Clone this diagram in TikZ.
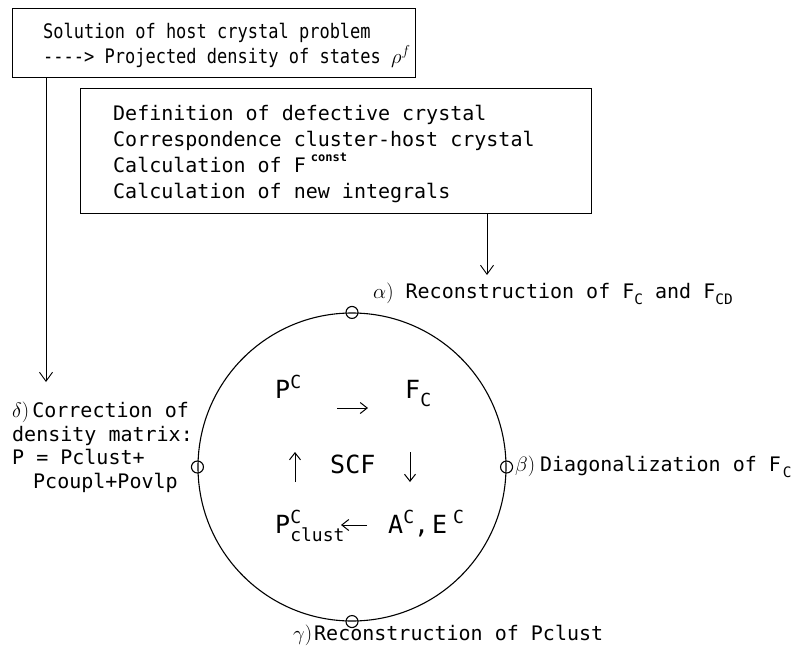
\documentclass[tikz,border=0pt]{standalone}
\usepackage{fontspec}
\usepackage{graphicx}
\setmainfont{DejaVu Sans Mono}
\newfontfamily\narrowmono{DejaVu Sans Mono}[FakeStretch=0.85]
\usetikzlibrary{arrows.meta,calc}

% raised / lowered indices in the running font
\newcommand\supC[1]{\raisebox{0.38em}{\scalebox{0.72}{#1}}}
\newcommand\subC[1]{\raisebox{-0.32em}{\scalebox{0.72}{#1}}}

\begin{document}
\begin{tikzpicture}[x=1pt,y=-1pt,
  frame/.style={draw, line width=1.1pt, inner sep=0, anchor=north west},
  txt/.style={inner sep=0, anchor=base west, font=\fontsize{20}{24}\selectfont},
  hosttxt/.style={inner sep=0, anchor=base west, font=\narrowmono\fontsize{20}{25}\selectfont},
  big/.style={inner sep=0, anchor=base west, font=\fontsize{25}{30}\selectfont},
  flow/.style={line width=0.9pt, -{Straight Barb[length=9pt,width=13pt]}},
  loop/.style={line width=1pt, -{Straight Barb[length=7pt,width=11pt]}},
  ring/.style={draw, circle, line width=1.1pt, inner sep=0},
  port/.style={draw, circle, line width=1.1pt, minimum size=12pt, inner sep=0},
]
\useasboundingbox (0,0) rectangle (806,648);

% host crystal box
\node[frame, minimum width=403pt, minimum height=69pt] (host) at (12,8) {};
\node[hosttxt] (host1) at (43,38) {Solution of host crystal problem};
\node[hosttxt] (host2) at (43,63) {-{}-{}-{}-{}> Projected density of states $\rho^{f}$};

% defective crystal box
\node[frame, minimum width=511pt, minimum height=125pt] (defect) at (80,88) {};
\node[txt] (def1) at (113,120) {Definition of defective crystal};
\node[txt] (def2) at (113,146) {Correspondence cluster-host crystal};
\node[txt] (def3) at (113,172) {Calculation of F\hspace{5pt}\raisebox{0.55em}{\scalebox{0.6}{\bfseries const}}};
\node[txt] (def4) at (113,198) {Calculation of new integrals};

% SCF cycle
\node[ring, minimum size=308pt] (cycle) at (352,467) {};
\node[port] (pa) at (cycle.north) {};
\node[port] (pb) at (cycle.east) {};
\node[port] (pg) at (cycle.south) {};
\node[port] (pd) at (cycle.west) {};

\node[big] (pc) at (275,398) {P\supC{C}};
\node[big] (fc) at (405,398) {F\subC{C}};
\node[big] (scf) at (330,473) {SCF};
\node[big] (pcl) at (275,533) {P\rlap{\supC{C}}\subC{clust}};
\node[big] (ae) at (388,533) {A\supC{C},\hspace{3pt}E\hspace{6pt}\supC{C}};

\coordinate (r1) at (337,408); \coordinate (r2) at (368,408);
\coordinate (d1) at (410,452); \coordinate (d2) at (410,482);
\coordinate (l1) at (367,525); \coordinate (l2) at (341,525);
\coordinate (u1) at (295,482); \coordinate (u2) at (295,452);
\draw[loop] (r1) -- (r2);
\draw[loop] (d1) -- (d2);
\draw[loop] (l1) -- (l2);
\draw[loop] (u1) -- (u2);

% step labels
\node[txt] (la) at (373,298) {$\alpha)$ Reconstruction of F\subC{C} and F\subC{CD}};
\node[txt] (lb) at (515,471) {$\beta)$\hspace{5pt}Diagonalization of F\hspace{2pt}\subC{C}};
\node[txt] (lg) at (293,640) {$\gamma)$\hspace{2pt}Reconstruction of Pclust};
\node[txt] (ld1) at (12,417) {$\delta)$\hspace{3pt}Correction of};
\node[txt] (ld2) at (12,441) {density matrix:};
\node[txt] (ld3) at (12,464) {P = Pclust+};
\node[txt] (ld4) at (33,488) {Pcoupl+Povlp};

% feeds into the cycle
\coordinate (dtip) at (46,382);
\draw[flow] (host.south -| dtip) -- (dtip);
\coordinate (atip) at (487,275);
\draw[flow] (defect.south -| atip) -- (atip);
\end{tikzpicture}
\end{document}
